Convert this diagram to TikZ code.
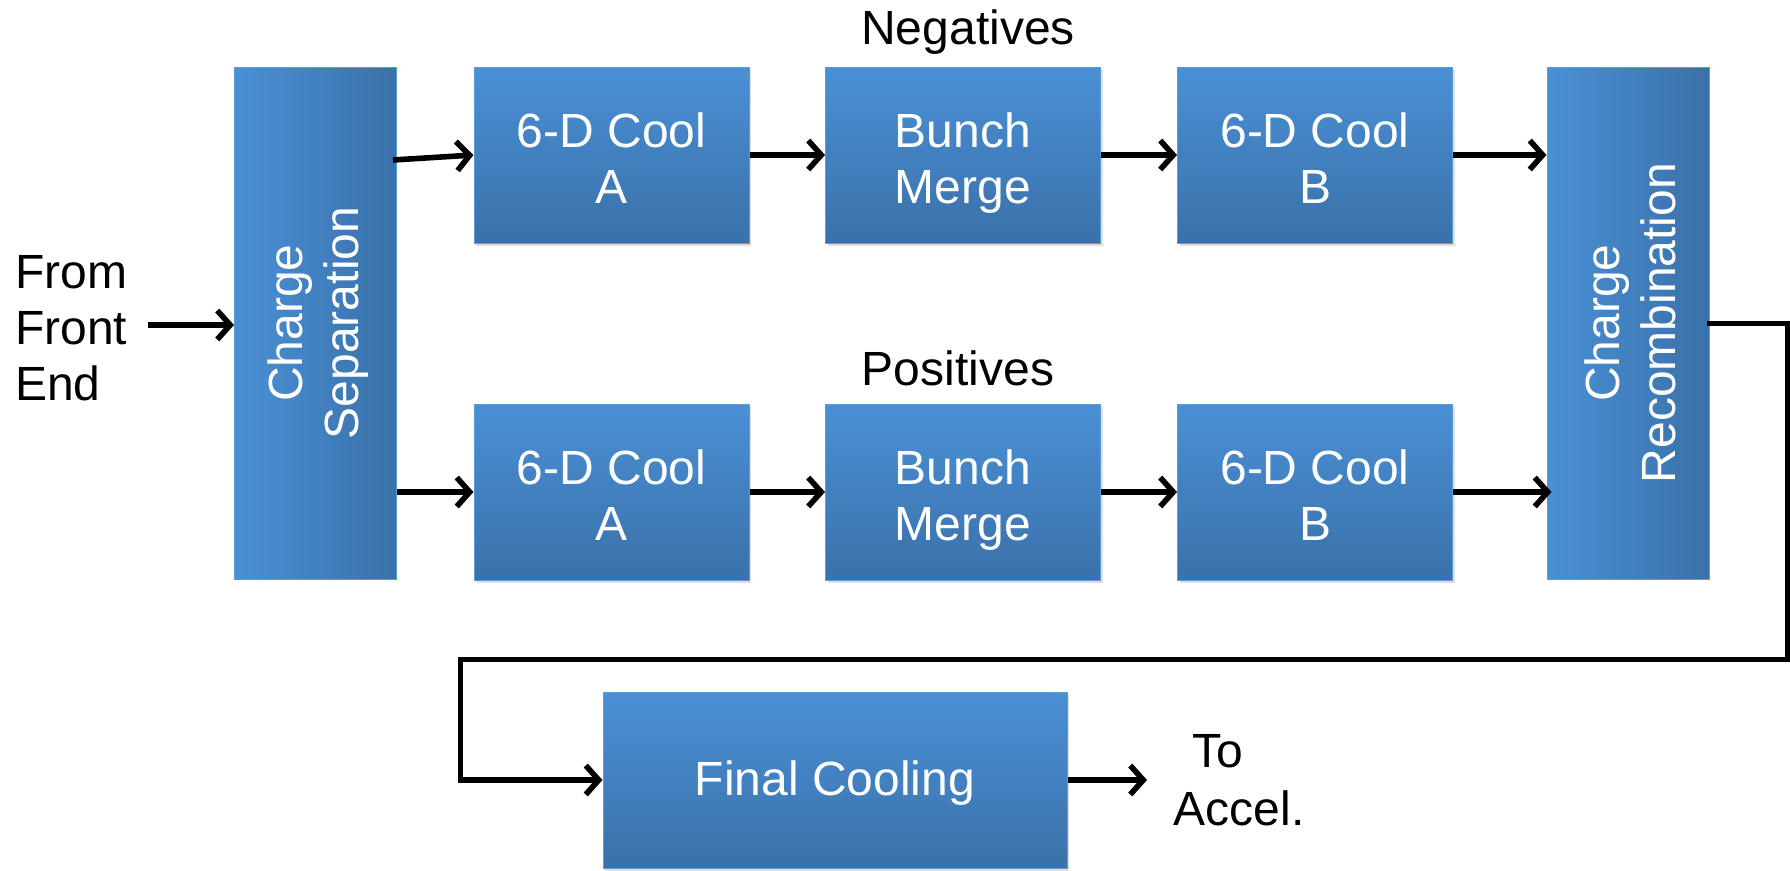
\documentclass[tikz,border=0pt]{standalone}
\usepackage{fontspec}
\setmainfont{Liberation Sans}
\usetikzlibrary{arrows.meta,shadows,calc}
\definecolor{btop}{HTML}{4A90D6}
\definecolor{bbot}{HTML}{3A71A9}
\definecolor{bedge}{HTML}{5B9BD8}
\begin{document}
\begin{tikzpicture}[x=1pt,y=-1pt,
  txt/.style={font=\fontsize{48}{56}\selectfont},
  wtxt/.style={txt,text=white,align=center,inner sep=0pt},
  hbox/.style={draw=bedge,line width=1pt,top color=btop,bottom color=bbot,
    minimum width=275pt,minimum height=176pt,inner sep=0pt,
    drop shadow={opacity=0.25,shadow xshift=2pt,shadow yshift=-3pt}},
  vbox/.style={draw=bedge,line width=1pt,left color=btop,right color=bbot,
    minimum width=162pt,minimum height=512pt,inner sep=0pt},
  arr/.style={line width=5.6pt,-{Straight Barb[length=13pt,width=29pt,line width=5.6pt]}},
  lin/.style={line width=5pt,line cap=rect}]
\useasboundingbox (0,0) rectangle (1790,870);
\node[vbox] (cs) at (315.5,323) {};
\node[wtxt,rotate=90] (cst) at ([xshift=3pt]cs.center) {Charge\\Separation};
\node[vbox] (cr) at (1628,323) {};
\node[wtxt,rotate=90] (crt) at ([xshift=2pt]cr.center) {Charge\\Recombination};
\node[hbox] (na) at (611.5,155) {};
\node[hbox] (nm) at (963,155) {};
\node[hbox] (nb) at (1315,155) {};
\node[hbox] (pa) at (611.5,492) {};
\node[hbox] (pm) at (963,492) {};
\node[hbox] (pb) at (1315,492) {};
\node[hbox,minimum width=464pt] (fc) at (835,780) {};
\node[wtxt] (nat) at ([yshift=-8pt]na.center) {6-D Cool\\A\vphantom{g}};
\node[wtxt] (nmt) at ([yshift=-8pt]nm.center) {Bunch\\Merge};
\node[wtxt] (nbt) at ([yshift=-8pt]nb.center) {6-D Cool\\B\vphantom{g}};
\node[wtxt] (pat) at ([yshift=-8pt]pa.center) {6-D Cool\\A\vphantom{g}};
\node[wtxt] (pmt) at ([yshift=-8pt]pm.center) {Bunch\\Merge};
\node[wtxt] (pbt) at ([yshift=-8pt]pb.center) {6-D Cool\\B\vphantom{g}};
\node[wtxt] (fct) at ([yshift=-3pt]fc.center) {Final Cooling};
\node[txt] (neg) at (968,32) {Negatives};
\node[txt] (pos) at (958,368) {Positives};
\node[txt,align=left,anchor=west,inner sep=0pt] (from) at (15,328) {From\\Front\\End};
\node[txt] (to) at (1218,751) {To};
\node[txt] (acc) at (1239,808) {Accel.};
\coordinate (fromend) at (148,325);
\draw[arr] (fromend) -- (fromend -| cs.west);
\draw[arr] ([xshift=-4pt,yshift=-5pt]cs.east |- na.west) -- (na.west);
\draw[arr] (na) -- (nm);
\draw[arr] (nm) -- (nb);
\draw[arr] (nb.east) -- (nb.east -| cr.west);
\draw[arr] (cs.east |- pa.west) -- (pa.west);
\draw[arr] (pa) -- (pm);
\draw[arr] (pm) -- (pb);
\draw[arr] (pb.east) -- ([xshift=5pt]pb.east -| cr.west);
\coordinate (r1) at (1787,323);
\coordinate (r2) at (1787,659);
\coordinate (r3) at (460,659);
\draw[lin] (cr.east) -- (r1) -- (r2) -- (r3) -- (r3 |- fc.west);
\draw[arr] (r3 |- fc.west) -- (fc.west);
\coordinate (fcend) at (1147,780);
\draw[arr] (fc.east) -- (fcend);
\end{tikzpicture}
\end{document}
